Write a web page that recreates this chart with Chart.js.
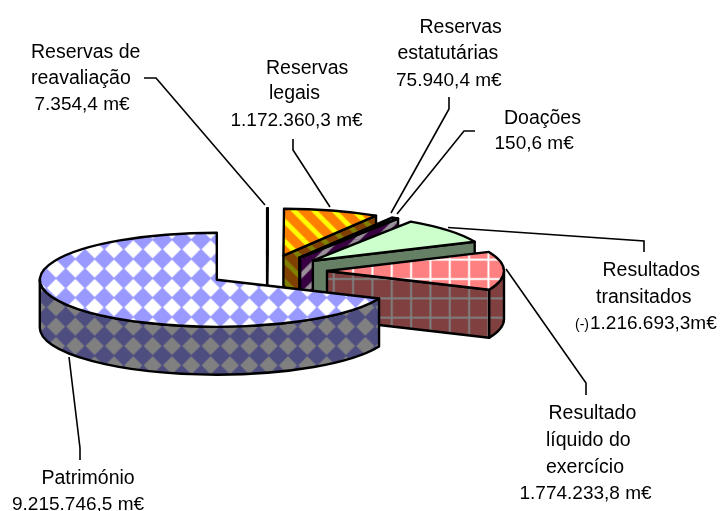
<!DOCTYPE html>
<html>
<head>
<meta charset="utf-8">
<title>Capitais próprios</title>
<script src="https://cdn.jsdelivr.net/npm/chart.js@4"></script>
<style>
  html, body { margin: 0; padding: 0; background: #fff; overflow: hidden; }
  canvas { display: block; }
</style>
</head>
<body>
<canvas id="mycanvas" width="720" height="511"></canvas>
<script>
// values in m€ (drawn clockwise from 12 o'clock)
var categories = ['Reservas de reavaliação', 'Reservas legais', 'Reservas estatutárias', 'Doações', 'Resultados transitados', 'Resultado líquido do exercício', 'Património'];
var values = [7354.4, 1172360.3, 75940.4, 150.6, 1216693.3, 1774233.8, 9215746.5];

// slice styles: [kind, foreground, background]
var topStyles = [
    ['solid', '#000000', '#000000'],
    ['stripes', '#ffff00', '#ff8000'],
    ['solid', '#99ccff', '#99ccff'],
    ['solid', '#99ccff', '#99ccff'],
    ['solid', '#ccffcc', '#ccffcc'],
    ['grid', '#ffffff', '#ff8080'],
    ['diamonds', '#ffffff', '#9999ff']
];
var wallStyles = [
    ['solid', '#000000', '#000000'],
    ['stripes', '#808000', '#804000'],
    ['upstripes', '#999099', '#380040'],
    ['upstripes', '#999099', '#380040'],
    ['solid', '#668066', '#668066'],
    ['grid', '#808080', '#804040'],
    ['diamonds', '#808080', '#4d4d80']
];

var squash = 0.2655;    // flattening of the pie
var depth = 48;         // height of the walls
var explode = 60;       // distance of each slice from the centre
var PITCH = 19.33;

function makePattern(ctx, style, pitch) {
    var s = 3, t = document.createElement('canvas');
    var size = Math.round(pitch * s);
    t.width = t.height = size;
    var c = t.getContext('2d');
    c.fillStyle = style[2];
    c.fillRect(0, 0, size, size);
    c.fillStyle = style[1];
    c.filter = 'blur(1.5px)';
    if (style[0] == 'diamonds') {
        var h = size * 0.47;
        c.beginPath();
        c.moveTo(size / 2, size / 2 - h);
        c.lineTo(size / 2 + h, size / 2);
        c.lineTo(size / 2, size / 2 + h);
        c.lineTo(size / 2 - h, size / 2);
        c.closePath();
        c.fill();
    } else if (style[0] == 'grid') {
        c.fillRect(size / 2 - 3, -9, 6, size + 18);
        c.fillRect(-9, size / 2 - 3, size + 18, 6);
    } else if (style[0] == 'stripes' || style[0] == 'upstripes') {
        if (style[0] == 'upstripes') {
            c.translate(size, 0);
            c.scale(-1, 1);
        }
        var w = size * 0.34;
        for (var i = -2; i <= 2; i++) {
            c.beginPath();
            c.moveTo(i * size - size, -size);
            c.lineTo(i * size + w - size, -size);
            c.lineTo(i * size + w + size, size);
            c.lineTo(i * size + size, size);
            c.closePath();
            c.fill();
        }
    }
    return c.createPattern(t, 'repeat');
}

// where each pattern sits on the page
function patternMatrix(style) {
    var m = new DOMMatrix();
    if (style[0] == 'diamonds') m = m.translate(7.63, 7.63);
    if (style[0] == 'grid') m = m.translate(5.1 - PITCH / 2, 8.35 - PITCH / 2);
    return m.scale(1 / 3, 1 / 3);
}

var ctx0 = document.getElementById('mycanvas').getContext('2d');
var pitches = { diamonds: PITCH, grid: PITCH, stripes: 20, upstripes: 20, solid: 4 };
var topPatterns = topStyles.map(function (s) { return makePattern(ctx0, s, pitches[s[0]]); });
var wallPatterns = wallStyles.map(function (s) { return makePattern(ctx0, s, pitches[s[0]]); });

// [text, x, baseline, size]
var labelLines = [
    ['Reservas de', 31, 58], ['reavaliação', 31, 83.5], ['7.354,4 m€', 34.5, 110, 19],
    ['Reservas', 266, 74], ['legais', 269, 99], ['1.172.360,3 m€', 230.5, 126, 19],
    ['Reservas', 419.5, 32.5], ['estatutárias', 397.5, 59], ['75.940,4 m€', 396, 85.5, 19],
    ['Doações', 504, 124], ['150,6 m€', 494.5, 148.5, 19],
    ['Resultados', 602.5, 276], ['transitados', 596, 302.5], ['(-)', 575, 329, 14], ['1.216.693,3m€', 590, 329, 19],
    ['Resultado', 548.5, 419], ['líquido do', 546, 445.5], ['exercício', 546, 472.5], ['1.774.233,8 m€', 519.5, 499, 19],
    ['Património', 41.5, 484], ['9.215.746,5 m€', 12, 510, 19]
];
var leaderLines = [
    [[144, 78], [156, 78], [265, 205]],
    [[293, 139], [293, 150], [330, 207]],
    [[449, 97], [449, 109], [391, 213]],
    [[475, 131], [464, 131], [397, 214]],
    [[644, 252], [644, 241], [448, 227.5]],
    [[586, 395], [586, 383], [506, 269]],
    [[80, 460], [80, 448], [69, 357]]
];

function edge(ctx, p, a, d) {
    return [p.x + Math.cos(a) * p.r, p.y + Math.sin(a) * p.r * squash + d];
}

function paint(ctx, pattern) {
    ctx.closePath();
    ctx.fillStyle = pattern;
    ctx.fill();
    ctx.stroke();
}

function wallFace(ctx, p, a, pattern) {
    var e = edge(ctx, p, a, 0);
    ctx.beginPath();
    ctx.moveTo(p.x, p.y);
    ctx.lineTo(e[0], e[1]);
    ctx.lineTo(e[0], e[1] + depth);
    ctx.lineTo(p.x, p.y + depth);
    paint(ctx, pattern);
}

var pie3d = {
    id: 'pie3d',
    beforeDatasetDraw: function (chart) {
        var ctx = chart.ctx;
        var arcs = chart.getDatasetMeta(0).data;
        ctx.save();
        ctx.lineWidth = 2.4;
        ctx.lineJoin = 'round';
        ctx.strokeStyle = '#000';
        arcs.forEach(function (arc, i) {
            var mid = (arc.startAngle + arc.endAngle) / 2;
            var dx = Math.cos(mid) * explode, dy = Math.sin(mid) * explode;
            var p = { x: arc.x + dx, y: arc.y + dy * squash, r: arc.outerRadius };
            var wall = wallPatterns[i];
            wall.setTransform(patternMatrix(wallStyles[i]));

            // only the faces turned to the viewer
            if (Math.cos(arc.startAngle) < 0) wallFace(ctx, p, arc.startAngle, wall);
            if (Math.cos(arc.endAngle) > 0) wallFace(ctx, p, arc.endAngle, wall);
            var lo = Math.max(arc.startAngle, 0), hi = Math.min(arc.endAngle, Math.PI);
            if (hi > lo) {
                ctx.beginPath();
                ctx.ellipse(p.x, p.y, p.r, p.r * squash, 0, lo, hi);
                ctx.ellipse(p.x, p.y + depth, p.r, p.r * squash, 0, hi, lo, true);
                paint(ctx, wall);
            }

            // top of the slice, flattened; the pattern is kept unflattened
            var m = new DOMMatrix()
                .translate(arc.x, arc.y).scale(1, squash).translate(-arc.x, -arc.y)
                .translate(dx, dy);
            topPatterns[i].setTransform(m.inverse().multiply(patternMatrix(topStyles[i])));
            ctx.save();
            ctx.translate(arc.x, arc.y);
            ctx.scale(1, squash);
            ctx.translate(-arc.x, -arc.y);
            ctx.translate(dx, dy);
            arc.draw(ctx, chart.chartArea);
            ctx.restore();

            ctx.beginPath();
            ctx.moveTo(p.x, p.y);
            ctx.ellipse(p.x, p.y, p.r, p.r * squash, 0, arc.startAngle, arc.endAngle);
            ctx.closePath();
            ctx.stroke();
        });
        ctx.restore();
        return false;
    },
    afterDraw: function (chart) {
        var ctx = chart.ctx;
        ctx.save();
        ctx.strokeStyle = '#000';
        ctx.lineWidth = 1.6;
        leaderLines.forEach(function (l) {
            ctx.beginPath();
            ctx.moveTo(l[0][0], l[0][1]);
            ctx.lineTo(l[1][0], l[1][1]);
            ctx.lineTo(l[2][0], l[2][1]);
            ctx.stroke();
        });
        ctx.fillStyle = '#000';
        ctx.textAlign = 'left';
        ctx.textBaseline = 'alphabetic';
        labelLines.forEach(function (l) {
            ctx.font = (l[3] || 19.5) + 'px "Liberation Sans"';
            ctx.fillText(l[0], l[1], l[2]);
        });
        ctx.restore();
    }
};

new Chart(document.getElementById('mycanvas'), {
    type: 'pie',
    data: {
        labels: categories,
        datasets: [{
            data: values,
            backgroundColor: topPatterns,
            borderWidth: 0,
            hoverOffset: 0,
            radius: 177
        }]
    },
    options: {
        responsive: false,
        animation: false,
        layout: { padding: { right: 186, top: 31 } },
        plugins: { legend: { display: false }, tooltip: { enabled: false } }
    },
    plugins: [pie3d]
});
</script>
</body>
</html>
